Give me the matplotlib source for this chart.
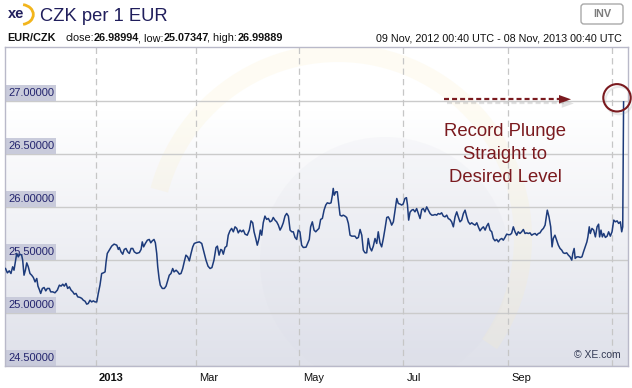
import numpy as np
import matplotlib
matplotlib.use("Agg")
import matplotlib.pyplot as plt
import matplotlib.patheffects as pe
from matplotlib.lines import Line2D
from matplotlib.patches import Rectangle, Circle, Arc, FancyBboxPatch, Polygon
from matplotlib.transforms import IdentityTransform, blended_transform_factory

plt.rcParams["font.family"] = ["Liberation Sans", "DejaVu Sans"]
plt.rcParams["lines.scale_dashes"] = False

# ---- data: EUR/CZK, days after 09 Nov 2012 00:40 UTC ----
start = np.datetime64("2012-11-09T00:40")

day = [
    0.0, 1.1, 2.2, 3.2, 4.2, 5.0, 5.8, 6.6, 7.5, 8.5,
    9.5, 10.1, 10.9, 11.7, 12.5, 13.4, 14.4, 15.4, 16.4, 17.4,
    18.4, 19.1, 19.9, 20.7, 21.7, 22.7, 23.7, 24.6, 25.8, 26.6,
    27.8, 29.1, 30.5, 31.7, 32.7, 33.7, 34.6, 35.6, 36.6, 37.6,
    38.6, 39.6, 40.5, 41.5, 42.5, 43.9, 44.9, 45.8, 46.8, 47.8,
    48.7, 49.7, 50.7, 51.7, 52.7, 53.7, 54.6, 55.6, 56.6, 57.6,
    58.6,
    59.2, 59.9, 61.1, 62.5, 63.9, 65.5, 66.4, 67.0, 68.0, 69.0,
    69.9, 70.9, 71.9, 72.9, 73.9, 74.9, 75.8, 77.2, 78.8, 79.8,
    80.5, 81.3, 82.3, 83.5, 84.6, 85.5, 86.4, 87.4, 88.2, 89.0,
    89.6, 90.4, 91.1, 92.3, 93.5, 94.5, 95.5, 96.4, 97.4, 98.4,
    99.2, 100.4, 101.4, 102.3, 103.3, 104.3, 105.2, 106.2, 107.2, 108.2,
    109.2, 110.2, 111.1, 112.5, 114.1, 115.5,
    117.0, 118.0, 119.2, 120.4, 121.5, 122.7, 123.9, 124.7, 125.7, 126.7,
    127.4, 128.2, 129.2, 130.2, 131.1, 132.1, 133.1, 134.1, 135.1, 136.1,
    137.0, 138.0, 139.0, 140.0, 141.0, 142.3, 143.5, 144.5, 145.5, 146.3,
    147.3, 148.2, 149.2, 150.0, 150.8, 151.7, 152.7, 153.7, 154.7, 155.7,
    156.7, 157.6, 158.6, 159.6, 160.6, 161.6, 162.6, 163.5, 164.5, 165.5,
    166.5, 167.5, 168.5, 169.4, 170.4, 171.4, 172.3, 173.3,
    174.3, 175.3, 176.9, 178.0, 178.8, 179.6, 180.6, 181.6, 182.6, 183.5,
    184.5, 185.5, 186.5, 187.5, 188.5, 189.4, 190.6, 191.6, 192.4, 192.9,
    193.5, 194.4, 195.3, 196.1, 196.9, 197.9, 198.8, 199.8, 200.8, 201.8,
    202.8, 203.8, 204.7, 205.7, 206.7, 207.7, 208.7, 209.7, 210.6, 211.6,
    212.6, 213.5, 214.5, 215.5, 216.5, 217.5, 218.5, 219.4, 220.4, 221.4,
    222.4, 223.4, 224.4, 225.3, 226.3, 227.3, 228.3, 229.3, 230.3, 231.2,
    232.2, 233.2, 234.1, 235.1, 236.0,
    236.6, 237.3, 238.1, 239.1, 240.0, 241.0, 242.0, 243.0, 244.0, 245.0,
    245.9, 246.9, 247.9, 248.9, 249.9, 250.9, 251.8, 252.8, 253.8, 254.7,
    255.7, 256.7, 257.7, 258.7, 259.7, 260.6, 261.6, 262.6, 263.6, 264.6,
    265.6, 266.5, 267.5, 268.5, 269.5, 270.5, 271.5, 272.4, 273.4, 274.4,
    275.4, 276.4, 277.4, 278.3, 279.3, 280.3, 281.3, 282.3, 283.2, 284.2,
    285.2, 286.2, 287.1, 288.1, 289.1, 290.1, 291.1, 292.1, 293.0, 294.0,
    295.0, 296.0, 297.0,
    297.9, 298.9, 299.9, 300.9, 301.8, 302.8, 303.8, 304.8, 305.8, 306.8,
    307.7, 308.7, 309.7, 310.7, 311.7, 312.7, 313.6, 314.6, 315.6, 316.6,
    317.6, 318.2, 318.9, 319.9, 320.9, 321.7, 322.4, 323.4, 324.4, 325.4,
    326.4, 327.4, 328.3, 329.3, 330.3, 331.3, 332.3, 333.3, 333.9, 334.7,
    335.3, 336.3, 337.3, 338.3, 339.3, 340.2, 341.2, 342.2, 342.8, 343.6,
    344.2, 345.2, 346.2, 347.2, 348.2, 349.1, 349.7, 350.5, 351.3, 352.1,
    353.1, 354.1, 355.0, 356.0, 357.0, 358.0, 359.0, 360.0, 360.9, 361.9,
    362.7, 363.3, 363.8,
]

rate = [
    25.419, 25.378, 25.397, 25.372, 25.435, 25.403, 25.482, 25.561, 25.529, 25.554,
    25.545, 25.498, 25.356, 25.403, 25.472, 25.435, 25.372, 25.356, 25.334, 25.293,
    25.325, 25.253, 25.221, 25.184, 25.231, 25.240, 25.208, 25.231, 25.231, 25.199,
    25.199, 25.190, 25.215, 25.262, 25.253, 25.271, 25.253, 25.278, 25.231, 25.246,
    25.215, 25.199, 25.177, 25.184, 25.152, 25.146, 25.137, 25.120, 25.111, 25.083,
    25.089, 25.120, 25.104, 25.114, 25.104, 25.104, 25.184, 25.262, 25.372, 25.378,
    25.387,
    25.482, 25.561, 25.592, 25.630, 25.649, 25.639, 25.599, 25.617, 25.576, 25.554,
    25.599, 25.608, 25.576, 25.561, 25.608, 25.608, 25.576, 25.561, 25.570, 25.599,
    25.670, 25.623, 25.655, 25.686, 25.693, 25.661, 25.680, 25.693, 25.661, 25.561,
    25.435, 25.325, 25.262, 25.231, 25.231, 25.253, 25.309, 25.356, 25.372, 25.419,
    25.387, 25.403, 25.387, 25.366, 25.372, 25.419, 25.482, 25.545, 25.529, 25.491,
    25.561, 25.623, 25.655, 25.664, 25.670, 25.655,
    25.561, 25.498, 25.441, 25.419, 25.428, 25.498, 25.617, 25.630, 25.545, 25.599,
    25.592, 25.554, 25.617, 25.630, 25.733, 25.774, 25.797, 25.765, 25.812, 25.797,
    25.755, 25.781, 25.765, 25.781, 25.743, 25.733, 25.781, 25.868, 25.850, 25.765,
    25.702, 25.639, 25.702, 25.781, 25.733, 25.850, 25.913, 25.882, 25.891, 25.859,
    25.868, 25.900, 25.875, 25.859, 25.828, 25.781, 25.812, 25.850, 25.913, 25.938,
    25.913, 25.781, 25.765, 25.765, 25.712, 25.693, 25.781, 25.764,
    25.639, 25.617, 25.620, 25.661, 25.693, 25.812, 25.859, 25.781, 25.765, 25.781,
    25.797, 25.882, 25.891, 25.969, 26.017, 26.038, 26.032, 26.038, 26.110, 26.174,
    26.110, 26.142, 26.142, 26.032, 25.922, 25.913, 25.922, 25.913, 25.900, 25.844,
    25.733, 25.724, 25.724, 25.724, 25.702, 25.712, 25.787, 25.733, 25.592, 25.567,
    25.567, 25.702, 25.617, 25.585, 25.630, 25.702, 25.655, 25.765, 25.661, 25.623,
    25.702, 25.797, 25.900, 25.906, 25.875, 25.828, 25.859, 25.969, 26.079, 26.032,
    26.026, 26.017, 26.028, 26.079, 26.087,
    26.017, 25.875, 25.950, 25.969, 25.975, 25.953, 25.984, 25.937, 25.890, 25.975,
    25.984, 25.953, 26.000, 25.969, 25.937, 25.922, 25.922, 25.928, 25.922, 25.937,
    25.931, 25.944, 25.913, 25.906, 25.922, 25.890, 25.881, 25.859, 25.812, 25.906,
    25.953, 25.906, 25.859, 25.875, 25.937, 25.969, 25.906, 25.859, 25.837, 25.850,
    25.837, 25.828, 25.850, 25.812, 25.774, 25.797, 25.812, 25.781, 25.818, 25.844,
    25.781, 25.765, 25.702, 25.680, 25.693, 25.670, 25.693, 25.702, 25.686, 25.712,
    25.743, 25.738, 25.738,
    25.751, 25.812, 25.765, 25.733, 25.765, 25.749, 25.765, 25.787, 25.749, 25.755,
    25.749, 25.755, 25.733, 25.743, 25.749, 25.733, 25.749, 25.755, 25.781, 25.797,
    25.828, 25.891, 25.969, 25.906, 25.812, 25.623, 25.702, 25.733, 25.686, 25.639,
    25.608, 25.592, 25.567, 25.561, 25.567, 25.545, 25.529, 25.498, 25.561, 25.608,
    25.514, 25.529, 25.529, 25.523, 25.529, 25.576, 25.623, 25.670, 25.717, 25.812,
    25.749, 25.797, 25.781, 25.717, 25.812, 25.837, 25.717, 25.781, 25.717, 25.749,
    25.712, 25.724, 25.765, 25.724, 25.765, 25.875, 25.859, 25.868, 25.844, 25.859,
    25.765, 25.812, 26.990,
]

yticks = [24.5, 25.0, 25.5, 26.0, 26.5, 27.0]
ytick_labels = ["24.50000", "25.00000", "25.50000", "26.00000", "26.50000", "27.00000"]
xtick_dates = ["2013-01-01", "2013-03-01", "2013-05-01", "2013-07-01", "2013-09-01", "2013-11-01"]
xtick_labels = ["2013", "Mar", "May", "Jul", "Sep", ""]

title = "CZK per 1 EUR"
pair = "EUR/CZK"
close_v, low_v, high_v = "26.98994", "25.07347", "26.99889"
period = "09 Nov, 2012 00:40 UTC - 08 Nov, 2013 00:40 UTC"
note = ["Record Plunge", "Straight to", "Desired Level"]


def to_dates(days):
    secs = np.round(np.asarray(days, dtype=float) * 86400).astype("int64")
    return start + secs.astype("timedelta64[s]")


dates = to_dates(day)

W, H = 632, 388
fig = plt.figure(figsize=(W / 100, H / 100), dpi=100)
ax = fig.add_axes([5 / W, (H - 366) / H, 623 / W, 319 / H])
PX = IdentityTransform()
navy = "#201e5c"
maroon = "#7a1a1f"

# background gradient (white top -> pale blue-grey bottom)
g = np.linspace(0, 1, 256)
k = np.clip((g - 0.2) / 0.8, 0, 1)[:, None, None]
top_c = np.array([1.0, 1.0, 1.0])
bot_c = np.array([0xdf, 0xe1, 0xea]) / 255
ax.imshow(top_c + (bot_c - top_c) * k, extent=[0, 1, 0, 1], transform=ax.transAxes,
          aspect="auto", zorder=0)

# very faint XE watermark
ax.add_patch(Circle((385, H - 262), 125, transform=PX, fc="#d8dae6", ec="none", alpha=0.13, zorder=0.5))
ax.add_patch(Arc((338, H - 238), 370, 370, theta1=-35, theta2=165, transform=PX,
                 color="#fbefc4", lw=13, alpha=0.2, zorder=0.6))

# grid
for v in yticks:
    ax.axhline(v, color="#cbcbcb", lw=1, zorder=1)
for d in xtick_dates:
    ax.axvline(np.datetime64(d), color="#c6c6c6", lw=0.9, ls=(0, (4.5, 3)), zorder=1)

# y labels inside the plot with boxes
ytr = blended_transform_factory(ax.transAxes, ax.transData)
for v, lab in zip(yticks, ytick_labels):
    ax.add_patch(Rectangle((0, v), 0.0814, 0.148, transform=ytr, fc="#c9cbdb", ec="none", zorder=2))
    ax.text(3 / 623, v + 0.072, lab, transform=ytr, va="center", ha="left",
            fontsize=8, color="#23246e", zorder=2.5)

# x labels to the right of the dashed lines
xtr = blended_transform_factory(ax.transData, ax.transAxes)
for d, lab in zip(xtick_dates, xtick_labels):
    ax.text(np.datetime64(d) + np.timedelta64(2, "D"), -0.038, lab, transform=xtr, ha="left",
            va="center", fontsize=8, color="#111111",
            fontweight="bold" if lab == "2013" else "normal")

ax.plot(dates, rate, color="#1d3b7b", lw=1.1, zorder=3, solid_joinstyle="round")

ax.set_xlim(to_dates([-0.3])[0], to_dates([366.4])[0])
ax.set_ylim(24.5, 27.507)
ax.set_xticks([])
ax.set_yticks([])
for s in ax.spines.values():
    s.set_color("#b9b9c9")
    s.set_linewidth(1)

ax.text(0.988, 0.02, "\u00a9 XE.com", transform=ax.transAxes, ha="right", va="bottom",
        fontsize=7.5, color="#333a55")

# header
fig.text(40, H - 20.7, title, transform=PX, fontsize=13.2, color=navy, va="baseline")
fig.text(8, H - 18.5, "xe", transform=PX, fontsize=10.5, fontweight="bold", color=navy, va="baseline")
fig.add_artist(Arc((21, H - 14.5), 24.6, 20, theta1=-78, theta2=78, color="#f2b51c", lw=2.0, transform=PX))

renderer = fig.canvas.get_renderer()
x = 7
base = H - 41.3
fs = 7.8
parts = [(pair, "bold", 10), ("close:", "normal", 0), (close_v, "bold", -1.5), (", low:", "normal", 0),
         (low_v, "bold", -1.5), (", high:", "normal", 0), (high_v, "bold", 0)]
for s, w, gap in parts:
    t = fig.text(x, base, s, transform=PX, fontsize=fs, fontweight=w, color="#111111", va="baseline")
    x = t.get_window_extent(renderer).x1 + gap
fig.text(621.7, base, period, transform=PX, fontsize=7.75, color="#111111", ha="right", va="baseline")

fig.add_artist(FancyBboxPatch((581, H - 24), 42, 20, boxstyle="round,pad=0,rounding_size=3",
                              transform=PX, fc="white", ec="#a9a9a9", lw=1))
fig.text(602, H - 14, "INV", transform=PX, fontsize=7.8, fontweight="bold", color="#7c7c7c",
         ha="center", va="center")

# annotation
shadow_l = [pe.SimpleLineShadow(offset=(2, -3), shadow_color="#888888", alpha=0.25), pe.Normal()]
shadow_p = [pe.SimplePatchShadow(offset=(2, -3), shadow_rgbFace="#888888", alpha=0.25), pe.Normal()]
arrow = Line2D([444, 561], [H - 99.3, H - 99.3], transform=PX, color=maroon, lw=1.6,
               ls=(0, (3.6, 2.2)), path_effects=shadow_l)
fig.add_artist(arrow)
fig.add_artist(Polygon([(559, H - 95), (571, H - 99.3), (559, H - 103.6)], closed=True,
                       transform=PX, fc=maroon, ec="none", path_effects=shadow_p))
fig.add_artist(Circle((617, H - 97.8), 13.7, transform=PX, fill=False, ec=maroon, lw=1.5,
                      path_effects=[pe.SimpleLineShadow(offset=(1.5, -2), shadow_color="#888888",
                                                        alpha=0.18), pe.Normal()]))
for line, yb in zip(note, [136, 158.7, 181.7]):
    fig.text(505.3, H - yb, line, transform=PX, fontsize=13.3, color=maroon, ha="center", va="baseline")

fig.savefig("out.png", dpi=100)
